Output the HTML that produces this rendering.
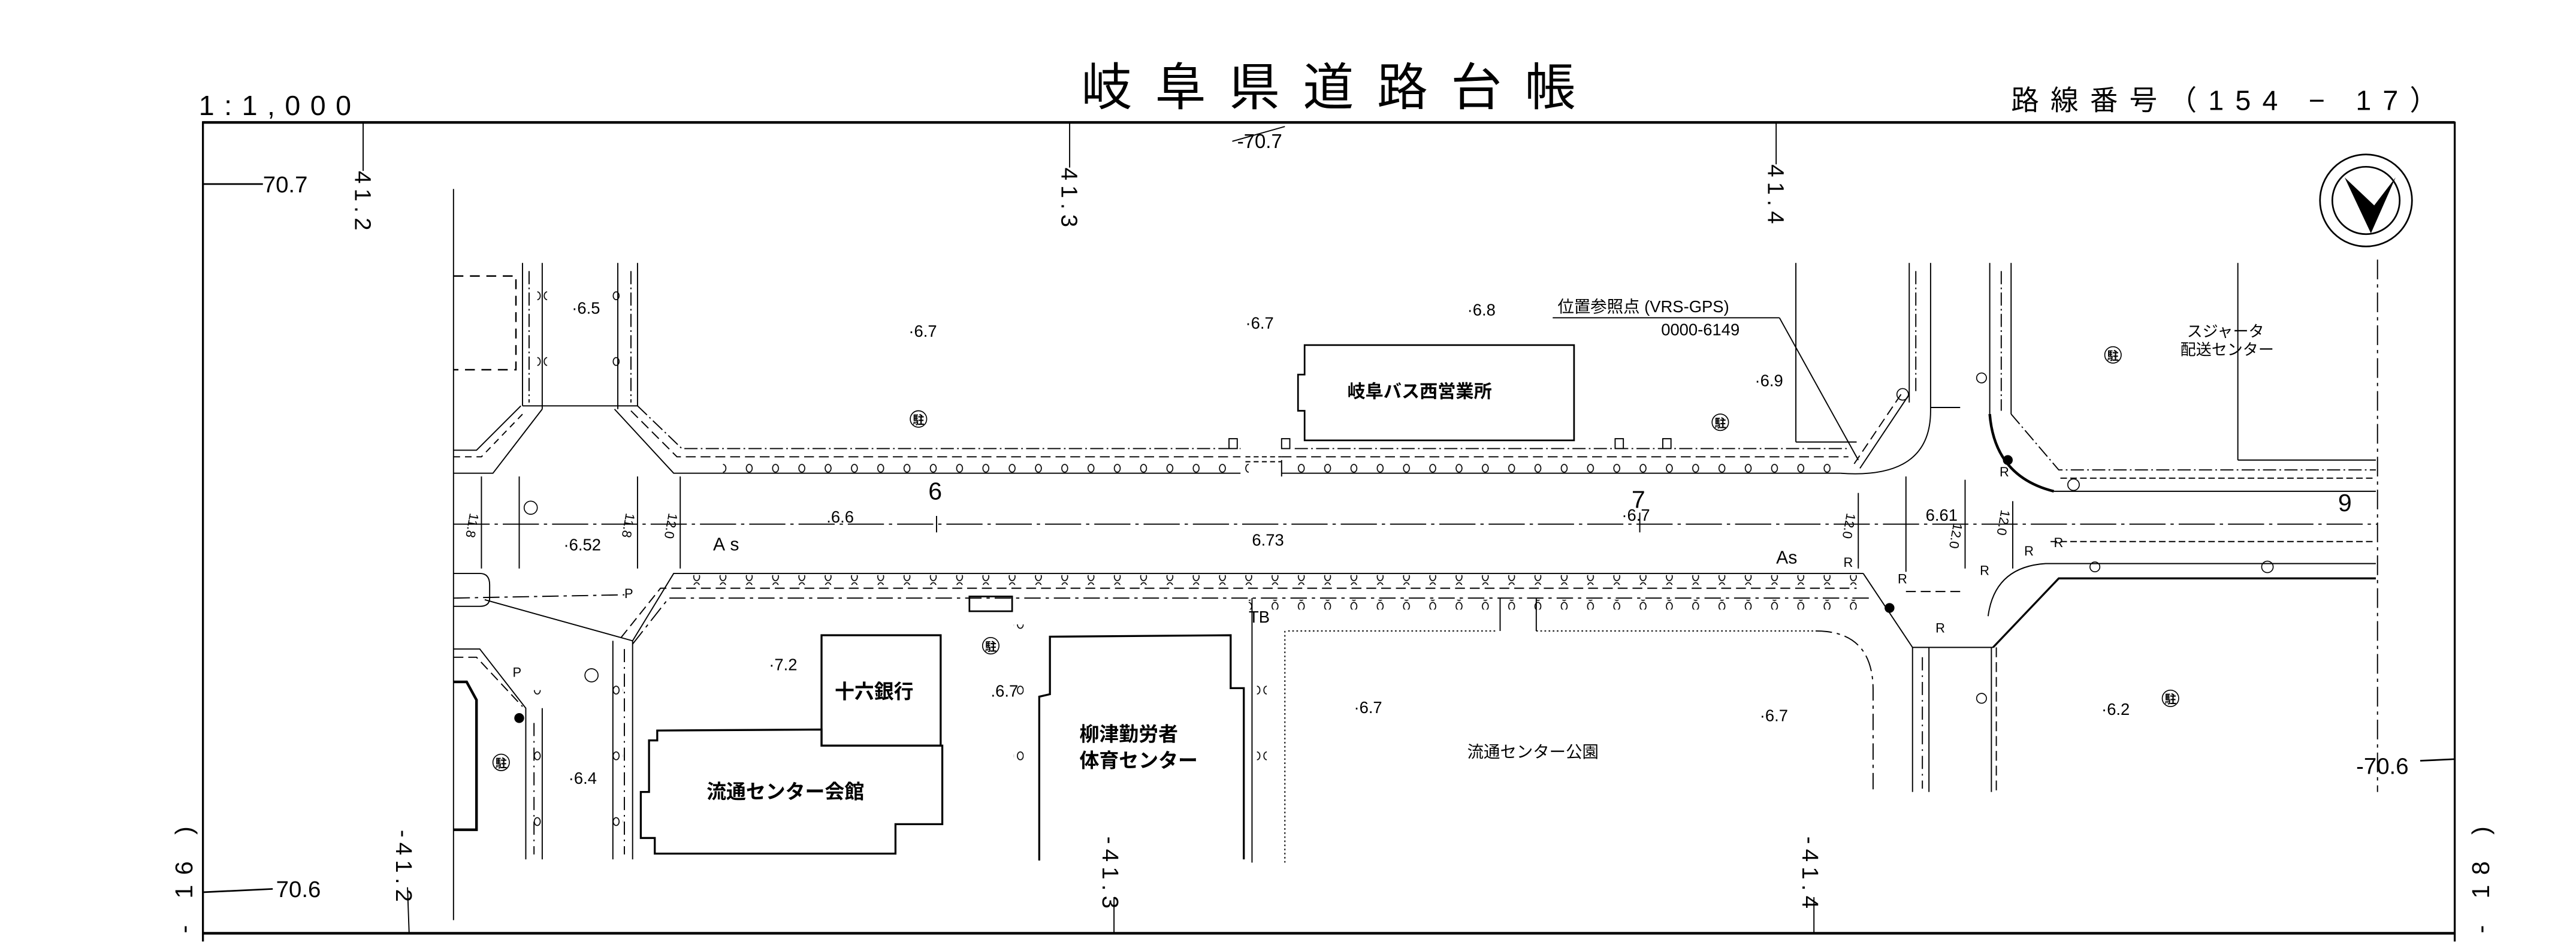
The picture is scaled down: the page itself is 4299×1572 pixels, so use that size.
<!DOCTYPE html>
<html><head><meta charset="utf-8"><style>
html,body{margin:0;padding:0;background:#fff;}
svg{display:block;}
text{font-family:"Liberation Sans","Noto Sans CJK JP",sans-serif;fill:#000;}
.j{font-family:"Liberation Sans","Noto Sans CJK JP",sans-serif;font-weight:bold;}
.n{font-size:10px;}
</style></head><body>
<svg width="4299" height="1572" viewBox="0 0 1567.8 573.3" xmlns="http://www.w3.org/2000/svg">
<defs>
<pattern id="cir" x="0" y="0" width="16" height="6" patternUnits="userSpaceOnUse">
<ellipse cx="8" cy="3" rx="1.8" ry="2.4" fill="none" stroke="#000" stroke-width="0.6"/>
</pattern>
<pattern id="cirv" x="0" y="0" width="6" height="40" patternUnits="userSpaceOnUse">
<ellipse cx="3" cy="20" rx="1.8" ry="2.4" fill="none" stroke="#000" stroke-width="0.6"/>
</pattern>
</defs>
<rect width="1567.8" height="573.3" fill="#fff"/>
<text x="658" y="64" font-size="31" letter-spacing="14">岐阜県道路台帳</text>
<text x="121" y="70" font-size="17" letter-spacing="6">1:1,000</text>
<text x="1224" y="67" font-size="17" letter-spacing="7">路線番号（154 − 17）</text>
<g fill="none" stroke="#000">
<line x1="123" y1="74.5" x2="1494" y2="74.5" stroke-width="1.6"/>
<line x1="123.5" y1="74" x2="123.5" y2="573" stroke-width="1.2"/>
<line x1="1494" y1="74" x2="1494" y2="573" stroke-width="1.2"/>
<line x1="123" y1="568" x2="1494" y2="568" stroke-width="1.6"/>
</g>
<text transform="translate(117,568) rotate(-90)" font-size="15" letter-spacing="6">- 16 )</text>
<text transform="translate(1515,568) rotate(-90)" font-size="15" letter-spacing="6">- 18 )</text>
<g stroke="#000" stroke-width="0.7" fill="none">
<line x1="124" y1="112" x2="160" y2="112" stroke-width="1"/>
<line x1="221" y1="75" x2="221" y2="104"/>
<line x1="651" y1="75" x2="651" y2="102"/>
<line x1="1081" y1="75" x2="1081" y2="100"/>
<line x1="750" y1="86" x2="782" y2="77"/>
<line x1="124" y1="543" x2="166" y2="541" stroke-width="1"/>
<line x1="248" y1="540" x2="249" y2="568"/>
<line x1="678" y1="546" x2="678" y2="568"/>
<line x1="1104" y1="546" x2="1104" y2="568"/>
<line x1="1473" y1="463" x2="1494" y2="462" stroke-width="1"/>
</g>
<g font-size="14">
<text x="160" y="117">70.7</text>
<text x="168" y="546">70.6</text>
<text x="1434" y="471">-70.6</text>
<text x="753" y="90" font-size="12">-70.7</text>
<text transform="translate(216,104) rotate(90)" letter-spacing="3">41.2</text>
<text transform="translate(646,102) rotate(90)" letter-spacing="3">41.3</text>
<text transform="translate(1076,100) rotate(90)" letter-spacing="3">41.4</text>
<text transform="translate(241,505) rotate(90)" letter-spacing="3">-41.2</text>
<text transform="translate(671,509) rotate(90)" letter-spacing="3">-41.3</text>
<text transform="translate(1097,509) rotate(90)" letter-spacing="3">-41.4</text>
</g>
<ellipse cx="1440" cy="122" rx="28" ry="28" fill="none" stroke="#000" stroke-width="1"/>
<circle cx="1440" cy="122" r="20.5" fill="none" stroke="#000" stroke-width="1"/>
<polygon points="1427,108 1443,142 1458,108 1445,125" fill="#000"/>

<g fill="none" stroke="#000" stroke-width="0.7">
<line x1="276" y1="115" x2="276" y2="560"/>
<polyline points="276,168 314,168 314,225 276,225" stroke-dasharray="6,4" stroke-width="0.9"/>
<line x1="318" y1="160" x2="318" y2="247"/><line x1="330" y1="160" x2="330" y2="249"/>
<line x1="376" y1="160" x2="376" y2="249"/><line x1="388" y1="160" x2="388" y2="247"/>
<line x1="322" y1="165" x2="322" y2="245" stroke-dasharray="8,2,1,2"/>
<line x1="384" y1="165" x2="384" y2="245" stroke-dasharray="8,2,1,2"/>
<line x1="318" y1="247" x2="388" y2="247"/>
<polyline points="276,288 300,288 330,249"/>
<polyline points="276,274 290,274 317,247"/>
<polyline points="276,278 293,278 320,250" stroke-dasharray="4,3"/>
<polyline points="374,249 410,288 755,288"/>
<polyline points="388,247 415,273 755,273" stroke-dasharray="8,2,1,2"/>
<polyline points="384,250 412,278 755,278" stroke-dasharray="6,3"/>
<rect x="748" y="267" width="5" height="6"/>
<rect x="780" y="267" width="5" height="6"/>
<rect x="983" y="267" width="5" height="6"/>
<rect x="1012" y="267" width="5" height="6"/>
<line x1="758" y1="278" x2="780" y2="278" stroke-dasharray="3,2"/>
<line x1="758" y1="281" x2="780" y2="281" stroke-dasharray="3,2"/>
<line x1="780" y1="288" x2="1120" y2="288"/>
<line x1="780" y1="278" x2="1125" y2="278" stroke-dasharray="6,3"/>
<line x1="788" y1="273" x2="1125" y2="273" stroke-dasharray="8,2,1,2"/>
<line x1="780" y1="280" x2="780" y2="290"/>
<path d="M1120,288 Q1175,292 1175,250 L1175,160"/>
<line x1="1162" y1="160" x2="1162" y2="245"/>
<line x1="1166" y1="165" x2="1166" y2="240" stroke-dasharray="8,2,1,2"/>
<polyline points="1162,240 1132,285"/>
<polyline points="1157,240 1128,283" stroke-dasharray="6,3"/>
<line x1="1093" y1="160" x2="1093" y2="269"/>
<line x1="1093" y1="269" x2="1130" y2="269"/>
<line x1="1175" y1="248" x2="1193" y2="248"/>
<line x1="1211" y1="160" x2="1211" y2="252"/>
<line x1="1224" y1="160" x2="1224" y2="252"/>
<line x1="1218" y1="165" x2="1218" y2="250" stroke-dasharray="8,2,1,2"/>
<path d="M1211,252 Q1214,290 1250,299" stroke-width="1.6"/>
<polyline points="1224,252 1253,286 1446,286" stroke-dasharray="8,2,1,2"/>
<line x1="1254" y1="291" x2="1446" y2="291" stroke-dasharray="4,2"/>
<line x1="1250" y1="299" x2="1446" y2="299"/>
<line x1="1362" y1="160" x2="1362" y2="280"/>
<line x1="1362" y1="280" x2="1446" y2="280"/>
<line x1="1447" y1="158" x2="1447" y2="482" stroke-dasharray="12,3,2,3"/>
<line x1="276" y1="319" x2="1447" y2="319" stroke-dasharray="22,3,2,3"/>
<line x1="570" y1="314" x2="570" y2="324"/>
<line x1="998" y1="312" x2="998" y2="324"/>
<path d="M276,349 L292,349 Q298,349 298,356 L298,364 Q298,369 292,369 L276,369"/>
<line x1="295" y1="365" x2="385" y2="390"/>
<line x1="276" y1="364" x2="380" y2="362" stroke-dasharray="10,3,2,3"/>
<polyline points="385,390 410,349 1134,349"/>
<polyline points="378,388 402,358 1130,358" stroke-dasharray="6,3"/>
<polyline points="385,392 407,364 1140,364" stroke-dasharray="10,3,2,3"/>
<line x1="373" y1="390" x2="373" y2="523"/>
<line x1="385" y1="390" x2="385" y2="523"/>
<line x1="380" y1="395" x2="380" y2="520" stroke-dasharray="8,3,1,3"/>
<polyline points="276,395 292,395 320,431 320,523"/>
<line x1="330" y1="431" x2="330" y2="523"/>
<line x1="325" y1="440" x2="325" y2="520" stroke-dasharray="8,3,1,3"/>
<polyline points="276,400 290,400 318,430" stroke-dasharray="6,3"/>
<polyline points="276,415 284,415 290,426 290,505 276,505" stroke-width="1.6"/>
<polyline points="1134,349 1164,394 1213,394"/>
<line x1="1164" y1="394" x2="1164" y2="482"/>
<line x1="1174" y1="394" x2="1174" y2="482"/>
<line x1="1170" y1="400" x2="1170" y2="480" stroke-dasharray="8,3,1,3"/>
<line x1="1212" y1="394" x2="1212" y2="482"/>
<line x1="1215" y1="394" x2="1215" y2="482" stroke-dasharray="6,3"/>
<polyline points="1213,394 1253,352 1446,352" stroke-width="1.2"/>
<path d="M1210,375 Q1214,345 1245,343 L1446,343"/>
<line x1="1248" y1="329.6" x2="1446" y2="329.6" stroke-dasharray="4,2"/>
<line x1="1160" y1="360" x2="1195" y2="360" stroke-dasharray="6,3"/>
<line x1="784" y1="384" x2="910" y2="384" stroke-dasharray="1,1.5"/>
<line x1="935" y1="384" x2="1105" y2="384" stroke-dasharray="1,1.5"/>
<path d="M1105,384 Q1140,384 1140,420 L1140,482" stroke-dasharray="10,3,2,3"/>
<line x1="913" y1="364" x2="913" y2="384"/>
<line x1="935" y1="364" x2="935" y2="384"/>
<line x1="782" y1="384" x2="782" y2="525" stroke-dasharray="1,1.5"/>
<line x1="762" y1="364" x2="762" y2="525"/>
<polygon points="794,210 958,210 958,268 794,268 794,250 790,250 790,228 794,228" stroke-width="1"/>
<rect x="500" y="386.6" width="72.5" height="67.2" stroke-width="1.2"/>
<polygon points="500,444 400,444.6 400,450.6 395,450.6 395,482 390,482 390,510 398.5,510 398.5,519.5 545,519.5 545,501.6 573.5,501.6 573.5,453.8 500,453.8" stroke-width="1.2"/>
<polyline points="632.5,523.7 632.5,424 639,422.5 639,387.5 749,386.6 749,418.8 757,418.8 757,523" stroke-width="1.2"/>
<rect x="590" y="363" width="26" height="9" stroke-width="1"/>
<line x1="945" y1="193.4" x2="1083" y2="193.4"/>
<line x1="1083" y1="193.4" x2="1131" y2="280"/>
<line x1="293" y1="290" x2="293" y2="346"/><line x1="316" y1="290" x2="316" y2="346"/>
<line x1="388" y1="290" x2="388" y2="346"/><line x1="414" y1="290" x2="414" y2="346"/>
<line x1="1131" y1="300" x2="1131" y2="346"/><line x1="1160" y1="290" x2="1160" y2="348"/>
<line x1="1196" y1="292" x2="1196" y2="346"/><line x1="1225" y1="305" x2="1225" y2="346"/>
</g>
<rect x="440" y="282" width="320" height="6" fill="url(#cir)"/>
<rect x="780" y="282" width="340" height="6" fill="url(#cir)"/>
<rect x="420" y="350" width="720" height="6" fill="url(#cir)"/>
<rect x="760" y="365" width="370" height="6" fill="url(#cir)"/>
<rect x="327" y="170" width="6" height="80" fill="url(#cirv)"/>
<rect x="372" y="170" width="6" height="80" fill="url(#cirv)"/>
<rect x="373" y="390" width="6" height="130" fill="url(#cirv)"/>
<rect x="324" y="420" width="6" height="100" fill="url(#cirv)"/>
<rect x="617" y="380" width="6" height="110" fill="url(#cirv)"/>
<rect x="765" y="390" width="6" height="90" fill="url(#cirv)"/>
<g fill="#000"><circle cx="316" cy="437" r="3"/><circle cx="1150" cy="370" r="3"/><circle cx="1222" cy="280" r="3"/></g>
<g fill="none" stroke="#000" stroke-width="0.6">
<circle cx="1158" cy="240" r="3.5"/><circle cx="1275" cy="345" r="3"/><circle cx="1206" cy="425" r="3"/><circle cx="1206" cy="230" r="3"/>
</g>
<g font-size="7" class="j">
<g fill="none" stroke="#000" stroke-width="0.6">
<circle cx="559" cy="255" r="5"/><circle cx="1047" cy="257" r="5"/><circle cx="1286" cy="216" r="5"/>
<circle cx="603" cy="393" r="5"/><circle cx="305" cy="464" r="5"/><circle cx="1321" cy="425" r="5"/>
<circle cx="323" cy="309" r="4"/><circle cx="360" cy="411" r="4"/><circle cx="1380" cy="345" r="3.5"/>
<circle cx="1262" cy="295" r="3.5"/>
</g>
<text x="555.5" y="258">駐</text><text x="1043.5" y="260">駐</text><text x="1282.5" y="219">駐</text>
<text x="599.5" y="396">駐</text><text x="301.5" y="467">駐</text><text x="1317.5" y="428">駐</text>
</g>
<g class="j" font-size="11">
<text x="820" y="242">岐阜バス西営業所</text>
<text x="508" y="425" font-size="12">十六銀行</text>
<text x="430" y="486" font-size="12">流通センター会館</text>
<text x="657" y="451" font-size="12">柳津勤労者</text>
<text x="657" y="467" font-size="12">体育センター</text>
<text x="893" y="461" font-size="10" style="font-weight:normal">流通センター公園</text>
<text x="1331" y="205" font-size="9.5" style="font-weight:normal">スジャータ</text>
<text x="1327" y="216" font-size="9.5" style="font-weight:normal">配送センター</text>
<text x="948" y="190" font-size="10" style="font-weight:normal">位置参照点 (VRS-GPS)</text>
<text x="1011" y="204" font-size="10" style="font-weight:normal">0000-6149</text>
</g>
<g class="n">
<text x="348" y="191">·6.5</text><text x="553" y="205">·6.7</text><text x="758" y="200">·6.7</text>
<text x="893" y="192">·6.8</text><text x="1068" y="235">·6.9</text>
<text x="343" y="335">·6.52</text><text x="503" y="318">.6.6</text><text x="762" y="332">6.73</text>
<text x="987" y="317">·6.7</text><text x="1172" y="317">6.61</text>
<text x="468" y="408">·7.2</text><text x="603" y="424">.6.7</text><text x="346" y="477">·6.4</text>
<text x="824" y="434">·6.7</text><text x="1071" y="439">·6.7</text><text x="1279" y="435">·6.2</text>
<text x="760" y="379">TB</text>
</g>
<g font-size="15"><text x="565" y="304">6</text><text x="993" y="309">7</text><text x="1423" y="311">9</text></g>
<g font-size="11"><text x="434" y="335" letter-spacing="3">As</text><text x="1081" y="343">As</text></g>
<g font-size="8">
<text transform="translate(286,312) rotate(100)">11.8</text>
<text transform="translate(381,312) rotate(100)">11.8</text>
<text transform="translate(407,312) rotate(100)">12.0</text>
<text transform="translate(1124,312) rotate(100)">12.0</text>
<text transform="translate(1189,318) rotate(100)">12.0</text>
<text transform="translate(1218,310) rotate(100)">12.0</text>
<text x="1122" y="345">R</text><text x="1155" y="355">R</text><text x="1178" y="385">R</text>
<text x="1205" y="350">R</text><text x="1232" y="338">R</text><text x="1250" y="333">R</text><text x="1217" y="290">R</text>
<text x="312" y="412">P</text><text x="380" y="364">P</text>
</g>
</svg>
</body></html>
